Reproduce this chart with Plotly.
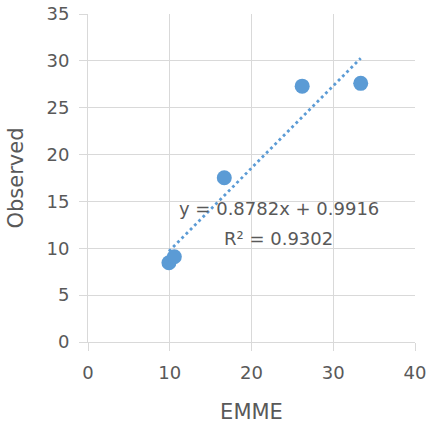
import plotly.graph_objects as go

# EMME model values vs. observed counts
emme = [9.9, 10.56, 16.67, 26.2, 33.36]
observed = [8.46, 9.1, 17.53, 27.3, 27.6]

# linear trendline coefficients
slope = 0.8782
intercept = 0.9916
r_squared = 0.9302

x_ticks = [0, 10, 20, 30, 40]
y_ticks = [0, 5, 10, 15, 20, 25, 30, 35]

BLUE = "#5B9BD5"
TEXT = "#595959"
GRID = "#D9D9D9"
FONT = "DejaVu Sans"

x_lo, x_hi = min(emme), max(emme)
trend_x = [x_lo, x_hi]
trend_y = [slope * v + intercept for v in trend_x]

fig = go.Figure()
fig.add_trace(go.Scatter(
    x=trend_x, y=trend_y, mode="lines",
    line=dict(color=BLUE, width=2.8, dash="2.8px,3.2px"),
    hoverinfo="skip", showlegend=False,
))
fig.add_trace(go.Scatter(
    x=emme, y=observed, mode="markers",
    marker=dict(color=BLUE, size=15, line=dict(width=0)),
    showlegend=False,
))

eq_text = f"y = {slope}x + {intercept}"
r2_text = f"R² = {r_squared}"
fig.add_annotation(text=eq_text, xref="paper", yref="paper", x=0.584, y=0.4055,
                   showarrow=False, xanchor="center", yanchor="middle",
                   font=dict(family=FONT, size=18, color=TEXT))
fig.add_annotation(text=r2_text, xref="paper", yref="paper", x=0.584, y=0.317,
                   showarrow=False, xanchor="center", yanchor="middle",
                   font=dict(family=FONT, size=18, color=TEXT))

axis_common = dict(
    showgrid=True, gridcolor=GRID, gridwidth=1,
    zeroline=False, showline=True, linecolor=GRID, linewidth=1, mirror=False,
    ticks="outside", ticklen=8, tickcolor=GRID, tickwidth=1,
    tickfont=dict(family=FONT, size=18, color=TEXT),
    automargin=False,
)

fig.update_layout(
    width=430, height=430,
    margin=dict(l=88, r=15, t=14, b=88),
    paper_bgcolor="white", plot_bgcolor="white",
    xaxis=dict(range=[0, 40], tickvals=x_ticks, ticklabelstandoff=6,
               title=dict(text="EMME", font=dict(family=FONT, size=21, color=TEXT), standoff=22),
               **axis_common),
    yaxis=dict(range=[0, 35], tickvals=y_ticks, ticklabelstandoff=6,
               title=dict(text="Observed", font=dict(family=FONT, size=21, color=TEXT), standoff=17),
               **axis_common),
)

fig.write_html("out.html")
